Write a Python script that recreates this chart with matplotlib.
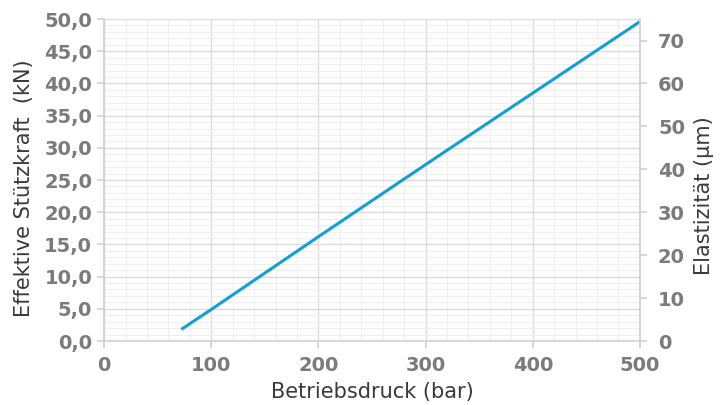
import matplotlib
matplotlib.use("Agg")
import matplotlib.pyplot as plt
from matplotlib.ticker import MultipleLocator, FuncFormatter

# Betriebsdruck (bar) vs. effektive Stützkraft (kN)
druck = [72, 100, 200, 300, 400, 500]
kraft = [1.8, 4.9, 16.2, 27.4, 38.5, 49.6]

x_ticks = [0, 100, 200, 300, 400, 500]
y_ticks = [0, 5, 10, 15, 20, 25, 30, 35, 40, 45, 50]
y2_ticks = [0, 10, 20, 30, 40, 50, 60, 70]

tick_col = '#7b7b7b'
grid_major = '#dcdcdc'
grid_minor = '#efefef'
line_col = '#129fd6'
label_col = '#3a3a3a'

fig = plt.figure(figsize=(7.28, 4.05), dpi=100)
ax = fig.add_axes([0.143, 0.158, 0.736, 0.795])

ax.plot(druck, kraft, color=line_col, lw=2.2, solid_capstyle='butt', zorder=3)

ax.set_xlim(0, 500)
ax.set_ylim(0, 50)
ax.set_xticks(x_ticks)
ax.set_yticks(y_ticks)
ax.xaxis.set_minor_locator(MultipleLocator(20))
ax.yaxis.set_minor_locator(MultipleLocator(1))
ax.yaxis.set_major_formatter(FuncFormatter(lambda v, p: ('%.1f' % v).replace('.', ',')))

ax.grid(which='major', color=grid_major, lw=1.0, zorder=0)
ax.grid(which='minor', color=grid_minor, lw=0.8, zorder=0)
ax.set_axisbelow(True)

for s in ['top', 'right']:
    ax.spines[s].set_visible(False)
for s in ['left', 'bottom']:
    ax.spines[s].set_color('#cfcfcf')
    ax.spines[s].set_linewidth(1.2)

ax.tick_params(which='minor', length=0)
ax.tick_params(which='major', length=5, width=1.2, color='#cfcfcf',
               labelcolor=tick_col, labelsize=14)
ax.tick_params(axis='x', pad=6)
for lab in ax.get_xticklabels() + ax.get_yticklabels():
    lab.set_fontweight('bold')

ax.set_xlabel('Betriebsdruck (bar)', fontsize=15, color=label_col, labelpad=5)
ax.set_ylabel('Effektive Stützkraft  (kN)', fontsize=15, color=label_col)
ax.yaxis.set_label_coords(-0.131, 0.475)

ax2 = ax.twinx()
ax2.set_ylim(0, 75)
ax2.set_yticks(y2_ticks)
for s in ['top', 'left', 'bottom']:
    ax2.spines[s].set_visible(False)
ax2.spines['right'].set_color('#cfcfcf')
ax2.spines['right'].set_linewidth(1.2)
ax2.tick_params(length=5, width=1.2, color='#cfcfcf', labelcolor=tick_col,
                labelsize=14, pad=8)
for lab in ax2.get_yticklabels():
    lab.set_fontweight('bold')
ax2.set_ylabel('Elastizität (µm)', fontsize=15, color=label_col)
ax2.yaxis.set_label_coords(1.101, 0.45)

fig.savefig('out.png', dpi=100)
